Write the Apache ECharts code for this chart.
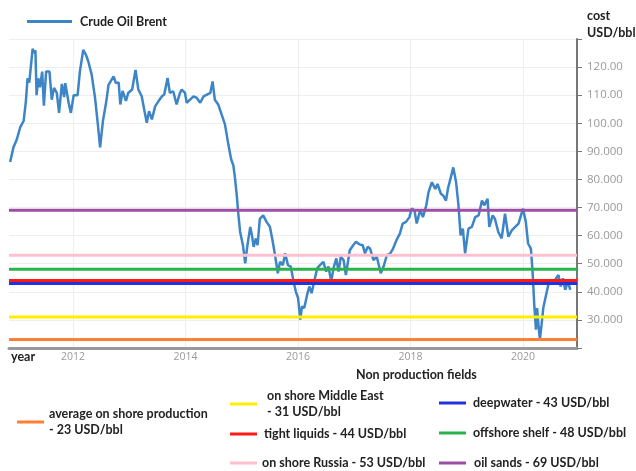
<!DOCTYPE html>
<html>
<head>
<meta charset="utf-8">
<script src="https://cdn.jsdelivr.net/npm/echarts@6/dist/echarts.min.js"></script>
<style>
  html, body { margin: 0; padding: 0; background: #fff; }
  #chartmain { width: 636px; height: 471px; }
</style>
</head>
<body>
<div id="chartmain"></div>
<script>
// decimal years
var years = [2010.88,2010.94,2011.00,2011.06,2011.12,2011.16,2011.19,2011.22,2011.28,2011.31,2011.33,2011.35,2011.38,2011.41,2011.45,2011.48,2011.52,2011.58,2011.62,2011.66,2011.71,2011.75,2011.80,2011.84,2011.86,2011.92,2011.96,
  2012.01,2012.08,2012.12,2012.18,2012.23,2012.27,2012.33,2012.39,2012.44,2012.48,2012.53,2012.59,2012.63,2012.72,2012.76,2012.81,2012.84,2012.88,2012.94,2012.98,
  2013.05,2013.11,2013.16,2013.22,2013.27,2013.31,2013.35,2013.40,2013.46,2013.52,2013.58,2013.62,2013.68,2013.72,2013.78,2013.84,2013.90,2013.93,2013.99,
  2014.02,2014.08,2014.14,2014.20,2014.26,2014.32,2014.38,2014.44,2014.48,2014.52,2014.58,2014.64,2014.70,2014.76,2014.81,2014.85,2014.88,2014.91,2014.94,2014.97,
  2015.02,2015.06,2015.10,2015.15,2015.18,2015.21,2015.25,2015.28,2015.32,2015.38,2015.44,2015.50,2015.55,2015.59,2015.64,2015.68,2015.73,2015.77,2015.82,2015.87,2015.92,2015.96,
  2016.00,2016.04,2016.07,2016.11,2016.16,2016.20,2016.24,2016.30,2016.34,2016.39,2016.45,2016.50,2016.54,2016.59,2016.63,2016.68,2016.72,2016.76,2016.81,2016.85,2016.92,2016.98,
  2017.03,2017.09,2017.15,2017.19,2017.24,2017.28,2017.34,2017.40,2017.47,2017.52,2017.58,2017.64,2017.69,2017.75,2017.81,2017.86,2017.92,2017.98,
  2018.02,2018.07,2018.11,2018.17,2018.22,2018.28,2018.32,2018.38,2018.44,2018.48,2018.54,2018.58,2018.63,2018.67,2018.71,2018.76,2018.81,2018.85,2018.89,2018.93,2018.97,
  2019.03,2019.09,2019.15,2019.21,2019.27,2019.31,2019.37,2019.40,2019.46,2019.50,2019.56,2019.62,2019.68,2019.74,2019.80,2019.86,2019.92,
  2020.00,2020.05,2020.09,2020.14,2020.17,2020.20,2020.23,2020.25,2020.28,2020.30,2020.33,2020.36,2020.41,2020.45,2020.51,2020.57,2020.63,2020.67,2020.71,2020.75,2020.80,2020.84];
var brent = [86.2,91.5,94.3,98.6,100.8,107.8,116,114.5,126.5,125,126,110,116,112.8,118.4,106.3,118.4,118.4,108.4,112.6,110.8,103.7,114,109.3,114.3,107.3,103.7,
  110,110,118.4,126.1,124.3,122,117.3,109,99.6,91.4,100.8,107.8,113.7,116.7,114.3,114.5,106.7,111.5,108,110.8,
  112,119,112,109.6,104.3,100.2,104.3,101.4,106.1,107.9,109.6,110.2,116.1,110.8,111.4,106.7,110.8,112,110.8,
  107.3,108.4,109.6,109,107.3,109.6,110.2,110.8,114.9,108.4,106.7,103.2,99.6,92.5,87.2,84.9,80.2,74.3,67.2,61.3,
  56.6,50.1,56.6,63.1,60.1,56,59,56.6,66,67.2,64.9,63.1,57.8,53.1,46.6,50.7,49.5,53.7,49.5,49,43.7,40.1,
  37.8,30.1,34.8,34.2,38.9,41.9,39.5,44.8,48.4,49.5,50.7,47.2,49,43.7,48.4,51.9,47.2,52.5,51.3,46,54.8,56.6,
  57.8,56.9,56.6,53.7,56,55.4,51.3,52.5,46.6,49,53.1,53.7,55.4,58.4,60.7,64.3,64.9,66.6,
  69.6,69,64.3,69,66.6,70.8,75.5,79,76.6,78.4,74.9,74.3,72.5,77.2,80.2,84.3,79,71.3,60.1,62.5,53.7,
  62.5,63.1,66.6,67.2,72.5,70.8,73.1,63.1,67.2,66,61.3,59,67.8,59.6,61.9,63.1,64.3,
  69.6,64.9,57.2,55.4,47.2,35.4,26.5,34.2,27.1,23,28.3,34.2,38.9,42.5,43.7,44.2,46,41.9,44.8,40.7,43.7,40.7];

var yearTicks = [2012, 2014, 2016, 2018, 2020];
var levelLabels = ['average on shore production\n- 23 USD/bbl', 'on shore Middle East\n- 31 USD/bbl', 'deepwater - 43 USD/bbl',
  'tight liquids - 44 USD/bbl', 'offshore shelf - 48 USD/bbl', 'on shore Russia - 53 USD/bbl', 'oil sands - 69 USD/bbl'];
var levelValues = [23, 31, 43, 44, 48, 53, 69];
var levelColors = ['#ff8033', '#ffee00', '#2233dd', '#ff1a1a', '#2ab34a', '#ffc0d0', '#9b4fa5'];
// legend spots for the levels (left, top, extra text padding)
var levelSpots = [[17, 406, 0], [230, 388, 5], [439, 395, 2], [230, 426, 2], [439, 425, 2], [230, 455, 0], [439, 455, 3]];

var xMin = 2010.86, xMax = 2020.96;

var myChart = echarts.init(document.getElementById('chartmain'));

var series = [{
  name: 'Crude Oil Brent',
  type: 'line',
  showSymbol: false,
  symbol: 'none',
  lineStyle: { color: '#3d85c6', width: 2.5 },
  itemStyle: { color: '#3d85c6' },
  data: years.map(function (y, i) { return [y, brent[i]]; }),
  z: 2
}];
var boldText = { fontFamily: 'Lato', fontWeight: 'bold', fontSize: 12.5, color: '#222' };
var legends = [{
  left: 27, top: 15, padding: 0,
  icon: 'rect', itemWidth: 45, itemHeight: 3,
  data: ['Crude Oil Brent'],
  textStyle: Object.assign({ padding: [0, 0, 0, 3] }, boldText)
}];
levelLabels.forEach(function (name, i) {
  series.push({
    name: name,
    type: 'line',
    symbol: 'none',
    lineStyle: { color: levelColors[i], width: 3 },
    itemStyle: { color: levelColors[i] },
    data: [[xMin, levelValues[i]], [xMax, levelValues[i]]],
    z: 3
  });
  legends.push({
    left: levelSpots[i][0], top: levelSpots[i][1], padding: 0,
    icon: 'rect', itemWidth: 27, itemHeight: 3,
    data: [name],
    textStyle: Object.assign({ lineHeight: 16, padding: [0, 0, 0, levelSpots[i][2]] }, boldText)
  });
});

var option = {
  animation: false,
  textStyle: { fontFamily: 'Lato' },
  title: [
    { text: 'cost\nUSD/bbl', left: 587, top: 7, padding: 0, textStyle: Object.assign({ lineHeight: 17 }, boldText) },
    { text: 'year', left: 11, top: 350, padding: 0, textStyle: boldText },
    { text: 'Non production fields', left: 356, top: 368, padding: 0, textStyle: boldText }
  ],
  legend: legends,
  grid: { left: 9, right: 59, top: 39, bottom: 123 },
  xAxis: {
    type: 'value',
    min: xMin, max: xMax,
    axisLine: { show: true, onZero: false, lineStyle: { color: '#999', width: 3 } },
    axisTick: { show: false, customValues: yearTicks },
    axisLabel: {
      customValues: yearTicks, color: '#999', fontSize: 10.5, margin: 4, fontFamily: 'Open Sans',
      formatter: function (v) { return String(v); }
    },
    splitLine: { show: true, lineStyle: { color: '#eee' } }
  },
  yAxis: {
    type: 'value',
    position: 'right',
    min: 20, max: 130, interval: 10,
    axisLine: { show: true, lineStyle: { color: '#777', width: 2 } },
    axisTick: { show: true, length: 5, lineStyle: { color: '#777' } },
    axisLabel: {
      color: '#999', fontSize: 11.5, margin: 10, fontFamily: 'Open Sans',
      formatter: function (v) { return (v <= 20 || v >= 130) ? '' : v.toPrecision(5); }
    },
    splitLine: { show: true, lineStyle: { color: '#eee' } }
  },
  series: series
};
myChart.setOption(option);
</script>
</body>
</html>
